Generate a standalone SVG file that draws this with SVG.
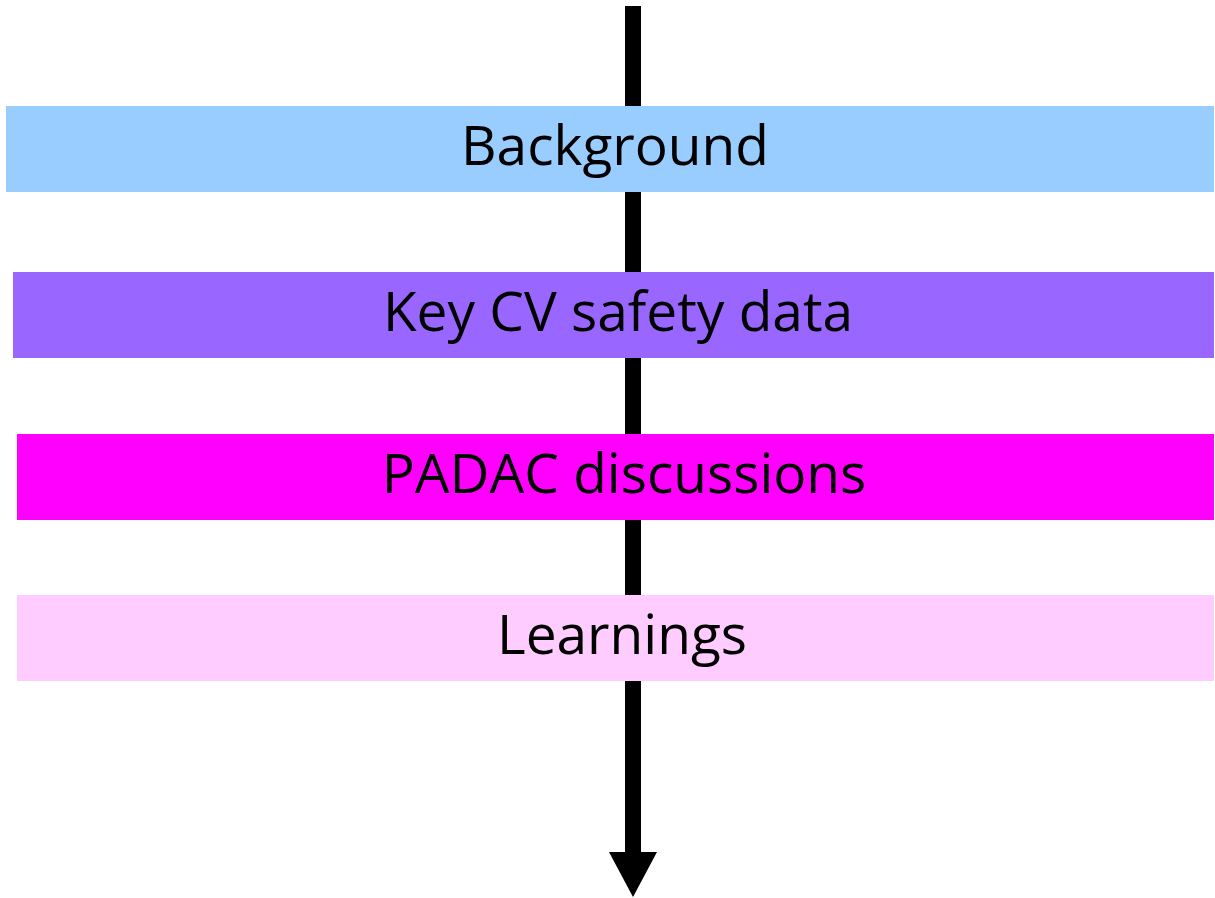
<svg xmlns="http://www.w3.org/2000/svg" width="1215" height="898" viewBox="0 0 1215 898">
  <style>
    .label { font-family: "Open Sans", "Noto Sans", "Liberation Sans", sans-serif; font-size: 55px; fill: #000000; text-anchor: middle; }
  </style>
  <rect width="1215" height="898" fill="#ffffff"/>
  <!-- timeline arrow running behind the bands -->
  <g id="connectors">
    <rect x="625" y="6" width="16" height="848" fill="#000000"/>
    <polygon points="609,852 657,852 633,897" fill="#000000"/>
  </g>
  <g id="background">
    <rect x="6" y="106" width="1208" height="86" fill="#99ccff"/>
    <text class="label" x="615" y="165">Background</text>
  </g>
  <g id="key-cv-safety-data">
    <rect x="13" y="272" width="1201" height="86" fill="#9966ff"/>
    <text class="label" x="618" y="331">Key CV safety data</text>
  </g>
  <g id="padac-discussions">
    <rect x="17" y="434" width="1197" height="86" fill="#ff00ff"/>
    <text class="label" x="624" y="493">PADAC discussions</text>
  </g>
  <g id="learnings">
    <rect x="17" y="595" width="1197" height="86" fill="#ffccff"/>
    <text class="label" x="622" y="654">Learnings</text>
  </g>
</svg>
